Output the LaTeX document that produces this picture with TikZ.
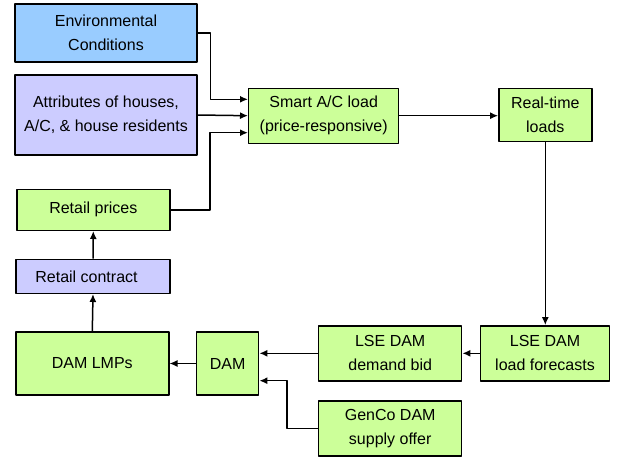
\documentclass[tikz,border=0pt]{standalone}
\usepackage{fontspec}
\setmainfont{Liberation Sans}
\usetikzlibrary{arrows.meta}
\definecolor{loadgreen}{HTML}{CCFF99}
\definecolor{envblue}{HTML}{99CCFF}
\definecolor{attrlilac}{HTML}{CCCCFF}
\begin{document}
\begin{tikzpicture}[x=1pt,y=-1pt,line join=round,
	box/.style={draw,line width=1.4pt,inner sep=0pt,align=center,font=\fontsize{16}{24}\selectfont},
	conn/.style={line width=1.5pt,-{Latex[length=8pt,width=7pt]}}]
	\useasboundingbox (0,0) rectangle (618,458);
	% boxes at their centres
	\node[box,fill=envblue,minimum width=182pt,minimum height=58pt] (env) at (106,33) {Environmental\\Conditions};
	\node[box,fill=attrlilac,minimum width=182pt,minimum height=80pt] (attr) at (106,115) {Attributes of houses,\\A/C, \& house residents};
	\node[box,fill=loadgreen,minimum width=150pt,minimum height=55pt] (smart) at (323.7,115.7) {Smart A/C load\\(price-responsive)};
	\node[box,fill=loadgreen,minimum width=93pt,minimum height=53pt] (rt) at (545.3,114.7) {Real-time\\loads};
	\node[box,fill=loadgreen,minimum width=153pt,minimum height=41pt] (price) at (93.3,209.8) {Retail prices};
	\node[box,fill=attrlilac,minimum width=154pt,minimum height=34pt] (contract) at (93,276.3) {Retail contract\hspace*{13pt}};
	\node[box,fill=loadgreen,minimum width=153pt,minimum height=63pt] (lmp) at (92.3,363.5) {DAM LMPs};
	\node[box,fill=loadgreen,minimum width=62pt,minimum height=63pt] (dam) at (227.7,363.5) {DAM};
	\node[box,fill=loadgreen,minimum width=143pt,minimum height=55pt] (bid) at (390.2,353.3) {LSE DAM\\demand bid};
	\node[box,fill=loadgreen,minimum width=143pt,minimum height=55pt] (genco) at (390.2,428.3) {GenCo DAM\\supply offer};
	\node[box,fill=loadgreen,minimum width=129pt,minimum height=55pt] (fc) at (545,353.3) {LSE DAM\\load forecasts};
	% connectors
	\draw[conn] (env.east) -- ++(13,0) |- ([yshift=16.4pt]smart.west);
	\draw[conn] (attr.east) -- (smart.west);
	\draw[conn] (price.east) -- ++(39.3,0) |- ([yshift=-17pt]smart.west);
	\draw[conn] (smart.east) -- (smart.east-|rt.west);
	\draw[conn] (rt.south) -- (rt.south|-fc.north);
	\draw[conn] (fc.west) -- (bid.east);
	\draw[conn] (bid.west) -- (bid.west-|dam.east);
	\draw[conn] (genco.west) -- ++(-31,0) |- ([yshift=-17.2pt]dam.east);
	\draw[conn] (dam.west) -- (lmp.east);
	\draw[conn] (lmp.north) -- (contract.south);
	\draw[conn] (contract.north) -- (price.south);
\end{tikzpicture}
\end{document}
